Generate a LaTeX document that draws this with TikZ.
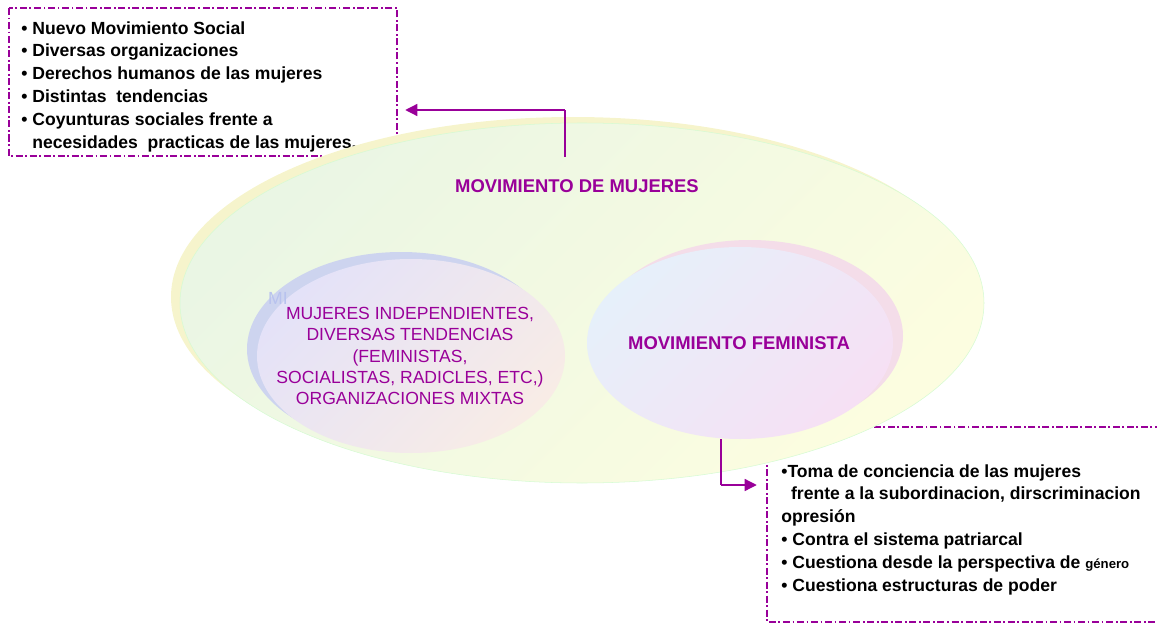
\documentclass[tikz,border=0pt]{standalone}
\usepackage{fontspec}
\setmainfont{Liberation Sans}
\usetikzlibrary{arrows.meta}
\definecolor{lila}{HTML}{990099}
\definecolor{verdeclaro}{HTML}{EAF6E4}
\definecolor{amarilloclaro}{HTML}{FCFDE0}
\definecolor{sombraamarilla}{HTML}{F6F4CC}
\definecolor{lavanda}{HTML}{E4E2F8}
\definecolor{durazno}{HTML}{F8ECE6}
\definecolor{sombraazul}{HTML}{CDD4EF}
\definecolor{celeste}{HTML}{E6F0FA}
\definecolor{rosado}{HTML}{F6E0F4}
\definecolor{sombrarosa}{HTML}{F4DDE9}
\definecolor{eco}{HTML}{B8C2EE}
\begin{document}
\begin{tikzpicture}[x=0.02cm,y=-0.02cm,
  caja/.style={draw=lila,line width=1.1pt,dash pattern=on 4pt off 1.5pt on 1pt off 1.5pt},
  lista/.style={anchor=north west,inner sep=0pt,align=left,font=\fontsize{10}{13}\selectfont\bfseries},
  titulo/.style={text=lila,font=\fontsize{10.5}{12}\selectfont\bfseries},
  guia/.style={draw=lila,line width=0.9pt},
  flecha/.style={draw=lila,line width=1.7pt,-{Triangle[length=7pt,width=6.5pt]}}]
\useasboundingbox (0,0) rectangle (1157,625);
\draw[caja] (9,8) rectangle (397,156);
\draw[caja] (767,427) rectangle (1170,622);
\node[lista] (rasgos) at (21,21) {• Nuevo Movimiento Social\\
• Diversas organizaciones\\
• Derechos humanos de las mujeres\\
• Distintas\ \ tendencias\\
• Coyunturas sociales frente a\\
\phantom{• }necesidades\ \ practicas de las mujeres.};
\node[lista] (ideas) at (781,464) {•Toma de conciencia de las mujeres\\
\ \ frente a la subordinacion, dirscriminacion\\
opresión\\
• Contra el sistema patriarcal\\
• Cuestiona desde la perspectiva de {\fontsize{7.5}{13}\selectfont género}\\
• Cuestiona estructuras de poder};
\fill[sombraamarilla] (573,297) ellipse (402 and 180);
\shade[top color=verdeclaro,bottom color=amarilloclaro,shading angle=45,draw=verdeclaro!80!green!60,line width=0.3pt] (582,303) ellipse (402 and 180);
\fill[sombraazul] (401,349) ellipse (154 and 97);
\shade[top color=lavanda,bottom color=durazno,shading angle=45] (411,356) ellipse (154 and 97);
\fill[sombrarosa] (750,336) ellipse (153 and 96);
\shade[top color=celeste,bottom color=rosado,shading angle=45] (740,343) ellipse (153 and 96);
\node[titulo] (mujeres) at (577,186) {MOVIMIENTO DE MUJERES};
\node[titulo] (feminista) at (739,343) {MOVIMIENTO FEMINISTA};
\node[text=eco,font=\fontsize{10}{12}\selectfont] (ecotexto) at (278,298) {MI};
\node[text=lila,align=center,font=\fontsize{10}{12.2}\selectfont] (grupos) at (410,356) {MUJERES INDEPENDIENTES,\\
DIVERSAS TENDENCIAS\\
(FEMINISTAS,\\
SOCIALISTAS, RADICLES, ETC,)\\
ORGANIZACIONES MIXTAS};
\coordinate (arribaA) at (565,157);
\coordinate (arribaB) at (565,110);
\coordinate (arribaC) at (405,110);
\coordinate (abajoA) at (721,439);
\coordinate (abajoB) at (721,485);
\coordinate (abajoC) at (757,485);
\draw[guia] (arribaA) -- (arribaB);
\draw[flecha] (arribaB) -- (arribaC);
\draw[guia] (abajoA) -- (abajoB);
\draw[flecha] (abajoB) -- (abajoC);
\end{tikzpicture}
\end{document}
